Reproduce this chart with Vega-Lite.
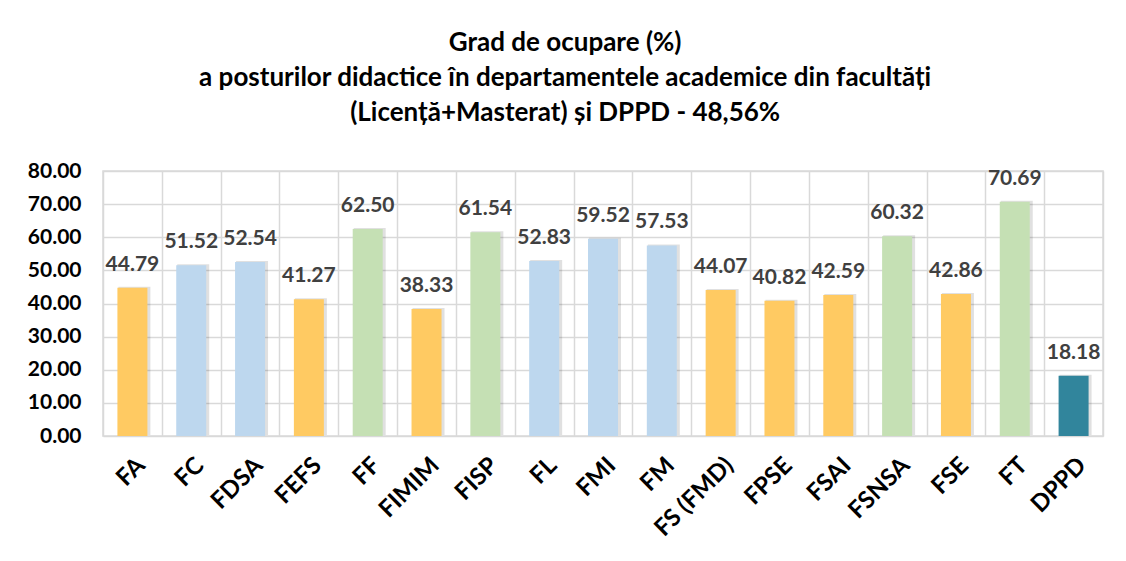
{
  "$schema": "https://vega.github.io/schema/vega-lite/v6.json",
  "width": 1000,
  "height": 265,
  "autosize": {"type": "none"},
  "padding": {"left": 103, "top": 171, "right": 23, "bottom": 125},
  "background": "white",
  "title": {
    "text": ["Grad de ocupare (%)", "a posturilor didactice în departamentele academice din facultăți", "(Licență+Masterat) și DPPD - 48,56%"],
    "font": "Lato",
    "fontSize": 26,
    "fontWeight": "bold",
    "color": "#000000",
    "anchor": "middle",
    "frame": "bounds",
    "lineHeight": 35,
    "offset": 34
  },
  "data": {
    "values": [
      {"fac": "FA", "val": 44.79, "grup": "g1"},
      {"fac": "FC", "val": 51.52, "grup": "g2"},
      {"fac": "FDSA", "val": 52.54, "grup": "g2"},
      {"fac": "FEFS", "val": 41.27, "grup": "g1"},
      {"fac": "FF", "val": 62.50, "grup": "g3"},
      {"fac": "FIMIM", "val": 38.33, "grup": "g1"},
      {"fac": "FISP", "val": 61.54, "grup": "g3"},
      {"fac": "FL", "val": 52.83, "grup": "g2"},
      {"fac": "FMI", "val": 59.52, "grup": "g2"},
      {"fac": "FM", "val": 57.53, "grup": "g2"},
      {"fac": "FS (FMD)", "val": 44.07, "grup": "g1"},
      {"fac": "FPSE", "val": 40.82, "grup": "g1"},
      {"fac": "FSAI", "val": 42.59, "grup": "g1"},
      {"fac": "FSNSA", "val": 60.32, "grup": "g3"},
      {"fac": "FSE", "val": 42.86, "grup": "g1"},
      {"fac": "FT", "val": 70.69, "grup": "g3"},
      {"fac": "DPPD", "val": 18.18, "grup": "g4"}
    ]
  },
  "encoding": {
    "x": {
      "field": "fac",
      "type": "nominal",
      "sort": null,
      "scale": {"paddingInner": 0, "paddingOuter": 0},
      "axis": {
        "title": null,
        "labelAngle": -45,
        "labelFont": "Lato",
        "labelFontSize": 24,
        "labelFontWeight": "bold",
        "labelColor": "#000000",
        "labelPadding": 17,
        "ticks": false,
        "domain": false,
        "grid": true,
        "gridColor": "#D9D9D9",
        "gridWidth": 1.5,
        "tickBand": "extent"
      }
    },
    "y": {
      "field": "val",
      "type": "quantitative",
      "scale": {"domain": [0, 80]},
      "axis": {
        "title": null,
        "values": [0, 10, 20, 30, 40, 50, 60, 70, 80],
        "format": ".2f",
        "labelFont": "Lato",
        "labelFontSize": 21,
        "labelFontWeight": "bold",
        "labelColor": "#000000",
        "labelPadding": 22,
        "ticks": false,
        "domain": false,
        "gridColor": "#D9D9D9",
        "gridWidth": 1.5
      }
    }
  },
  "layer": [
    {
      "mark": {"type": "bar", "size": 32, "color": "#000000", "opacity": 0.12, "xOffset": 2, "yOffset": -1},
      "encoding": {}
    },
    {
      "mark": {"type": "bar", "size": 30},
      "encoding": {
        "color": {
          "field": "grup",
          "type": "nominal",
          "scale": {"domain": ["g1", "g2", "g3", "g4"], "range": ["#FFCA62", "#BDD7EE", "#C5E0B4", "#31859C"]},
          "legend": null
        }
      }
    },
    {
      "mark": {"type": "text", "baseline": "bottom", "dy": -13, "font": "Lato", "fontSize": 21, "fontWeight": "bold", "color": "#404040"},
      "encoding": {
        "text": {"field": "val", "type": "quantitative", "format": ".2f"}
      }
    }
  ],
  "config": {
    "view": {"stroke": "#D9D9D9", "strokeWidth": 1.5}
  }
}
